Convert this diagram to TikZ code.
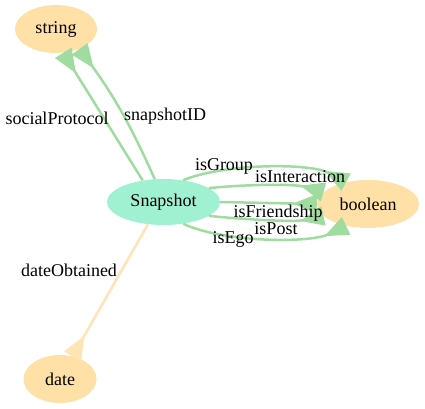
\documentclass[tikz,border=0pt]{standalone}
\usepackage{fontspec}
\setmainfont{Liberation Serif}
\usetikzlibrary{arrows.meta,shapes.geometric}
\definecolor{typefill}{HTML}{FFE1A8}
\definecolor{classfill}{HTML}{A0F0D2}
\definecolor{linkgreen}{HTML}{A0DCA0}
\definecolor{linkdate}{HTML}{FFE4B5}

\begin{document}
\begin{tikzpicture}[x=1pt, y=-1pt, font=\fontsize{18}{20}\selectfont,
    main/.style = {ellipse, fill=classfill, inner sep=0pt, minimum width=113pt, minimum height=46pt},
    datatype/.style = {ellipse, fill=typefill, inner sep=0pt},
    link/.style = {draw=linkgreen, line width=2.5pt, -{Triangle[reversed, length=24pt, width=19pt, fill=linkgreen]}},
    datelink/.style = {draw=linkdate, line width=2.5pt, -{Triangle[reversed, length=24pt, width=19pt, fill=linkdate]}},
    label/.style = {inner sep=0pt}]
    \useasboundingbox (0,0) rectangle (425,408);
    \node[main] (1) at (163.5,202) {Snapshot};
    \node[datatype, minimum width=82pt, minimum height=48pt] (2) at (56,29) {string};
    \node[datatype, minimum width=102pt, minimum height=48pt] (3) at (368,204) {boolean};
    \node[datatype, minimum width=73pt, minimum height=48pt] (4) at (60,379) {date};
    % Snapshot -> string
    \draw[link] (1.134) -- (2.-73);
    \draw[link] (1.111) to[bend right=6] (2.-40);
    % Snapshot -> boolean
    \draw[link] (1.48) .. controls (225,163) and (310,163) .. (3.135);
    \draw[link] (1.17) .. controls (250,184) and (295,184) .. (3.165);
    \draw[link] (1.0) -- (3.180);
    \draw[link] (1.-17) .. controls (250,220) and (295,222) .. (3.195);
    \draw[link] (1.-48) .. controls (225,243) and (310,243) .. (3.225);
    % Snapshot -> date
    \draw[datelink] (1.-125) -- (4.61);
    \node[label] (5) at (57,118) {socialProtocol};
    \node[label] (6) at (165,116) {snapshotID};
    \node[label] (7) at (224,166) {isGroup};
    \node[label] (8) at (300,177) {isInteraction};
    \node[label] (9) at (278,213) {isFriendship};
    \node[label] (10) at (276,229) {isPost};
    \node[label] (11) at (233,239) {isEgo};
    \node[label] (12) at (69,270) {dateObtained};
\end{tikzpicture}
\end{document}
